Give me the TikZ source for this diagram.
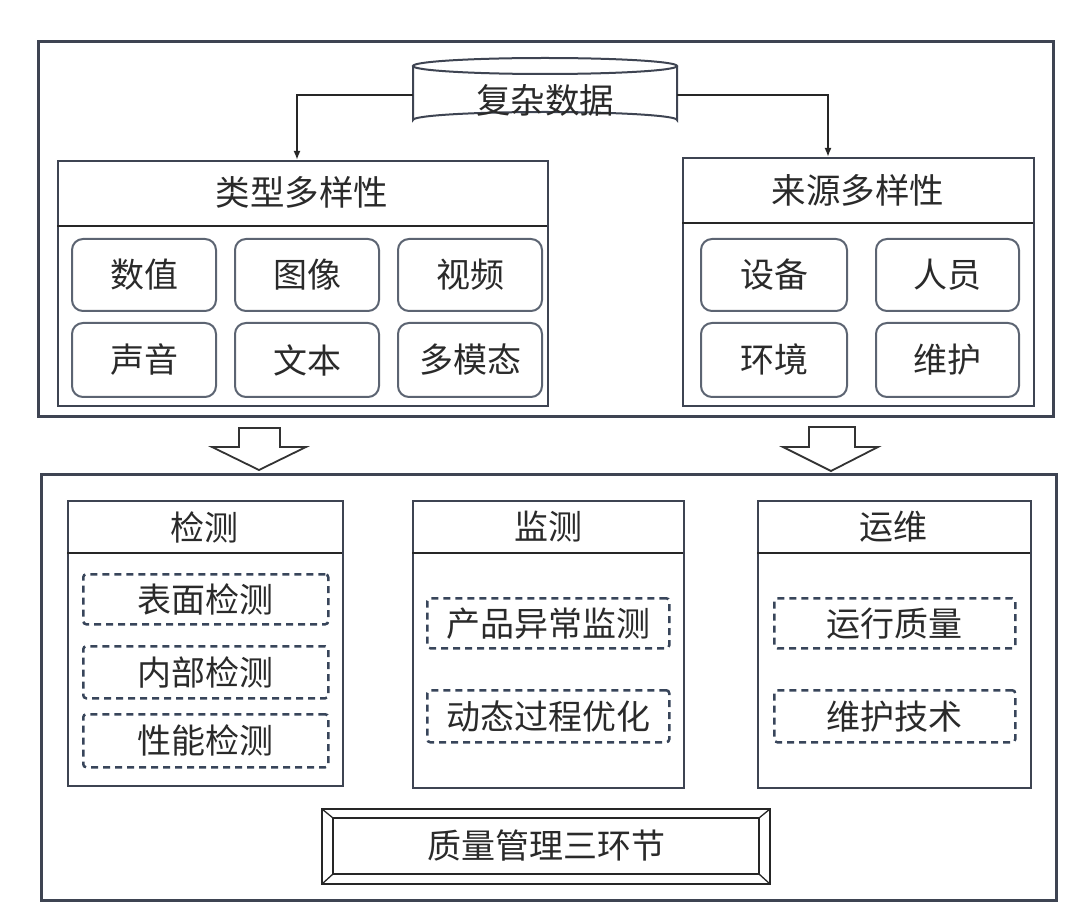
\documentclass[tikz,border=0pt]{standalone}
\usepackage{fontspec}
\newfontfamily\cjk{Noto Sans CJK SC}
\usetikzlibrary{arrows.meta,calc}
\definecolor{frame}{HTML}{3E4452}
\definecolor{rbox}{HTML}{5C6472}
\definecolor{dsh}{HTML}{38455A}
\definecolor{txt}{HTML}{2A2A2A}
\tikzset{
  x=1pt,y=-1pt,
  every node/.style={font=\cjk\fontsize{34}{36}\selectfont, text=txt, inner sep=0pt},
  outer/.style={draw=frame, line width=2.6pt, anchor=north west},
  panel/.style={draw=frame, line width=2.2pt, anchor=north west},
  hdr/.style={draw=black!85, line width=2.2pt},
  rbox/.style={draw=rbox, line width=2pt, rounded corners=11pt, anchor=north west},
  dbox/.style={draw=dsh, line width=2.5pt, dash pattern=on 7pt off 5pt, rounded corners=3pt, anchor=north west},
  conn/.style={draw=black!85, line width=2.2pt, -{Latex[length=9pt,width=7pt]}},
  hollow/.style={draw=black!80, line width=1.8pt, fill=white, line join=miter},
  htext/.style={font=\cjk\fontsize{34.5}{36}\selectfont},
}
\begin{document}
\begin{tikzpicture}
\useasboundingbox (0,0) rectangle (1080,909);
% outer frames
\node[outer, minimum width=1015pt, minimum height=375pt] (topframe) at (37,40) {};
\node[outer, minimum width=1015pt, minimum height=426pt] (botframe) at (40,473) {};

% cylinder
\draw[frame, line width=2pt, fill=white] (413,66) -- (413,120) arc[start angle=180, end angle=360, x radius=132, y radius=8] -- (677,66);
\draw[frame, line width=2pt] (545,66) ellipse [x radius=132, y radius=8];
\node[htext, minimum width=264pt, minimum height=50pt] (cyl) at (545,100) {复杂数据};

% type panel
\node[panel, minimum width=490pt, minimum height=245pt] (typ) at (57,160) {};
\draw[hdr] (57,226) -- (547,226);
\node[htext] (typh) at (302,192) {类型多样性};
\node[rbox, minimum width=144pt, minimum height=72pt] (b1) at (71,238) {};
\node at (b1.center) (t1) {数值};
\node[rbox, minimum width=144pt, minimum height=72pt] (b2) at (234,238) {};
\node at (b2.center) (t2) {图像};
\node[rbox, minimum width=144pt, minimum height=72pt] (b3) at (397,238) {};
\node at (b3.center) (t3) {视频};
\node[rbox, minimum width=144pt, minimum height=74pt] (b4) at (71,322) {};
\node at (b4.center) (t4) {声音};
\node[rbox, minimum width=144pt, minimum height=74pt] (b5) at (234,322) {};
\node at (b5.center) (t5) {文本};
\node[rbox, minimum width=144pt, minimum height=74pt] (b6) at (397,322) {};
\node at (b6.center) (t6) {多模态};

% source panel
\node[panel, minimum width=351pt, minimum height=248pt] (src) at (682,157) {};
\draw[hdr] (682,223) -- (1033,223);
\node[htext] (srch) at (858,190) {来源多样性};
\node[rbox, minimum width=146pt, minimum height=72pt] (s1) at (700,238) {};
\node at (s1.center) (u1) {设备};
\node[rbox, minimum width=143pt, minimum height=72pt] (s2) at (875,238) {};
\node at (s2.center) (u2) {人员};
\node[rbox, minimum width=146pt, minimum height=74pt] (s3) at (700,322) {};
\node at (s3.center) (u3) {环境};
\node[rbox, minimum width=143pt, minimum height=74pt] (s4) at (875,322) {};
\node at (s4.center) (u4) {维护};

% connectors
\coordinate (tl) at (297,160);
\coordinate (tr) at (828,157);
\draw[conn] (413,95) -| (tl);
\draw[conn] (677,95) -| (tr);

% hollow arrows
\draw[hollow] (239,428) -- (280,428) -- (280,447) -- (306,447) -- (259,470) -- (212,447) -- (239,447) -- cycle;
\draw[hollow] (809,427) -- (855,427) -- (855,447) -- (878,447) -- (831,471) -- (783,447) -- (809,447) -- cycle;

% detection
\node[panel, minimum width=275pt, minimum height=285pt] (det) at (67,500) {};
\draw[hdr] (67,553) -- (342,553);
\node (deth) at (204,527) {检测};
\node[dbox, minimum width=245pt, minimum height=50pt] (d1) at (82,573) {};
\node at (d1.center) (e1) {表面检测};
\node[dbox, minimum width=245pt, minimum height=52pt] (d2) at (82,645) {};
\node at (d2.center) (e2) {内部检测};
\node[dbox, minimum width=245pt, minimum height=53pt] (d3) at (82,713) {};
\node at (d3.center) (e3) {性能检测};

% monitoring
\node[panel, minimum width=271pt, minimum height=287pt] (mon) at (412,500) {};
\draw[hdr] (412,553) -- (683,553);
\node (monh) at (548,527) {监测};
\node[dbox, minimum width=242pt, minimum height=50pt] (m1) at (426,597) {};
\node at (m1.center) (n1) {产品异常监测};
\node[dbox, minimum width=242pt, minimum height=52pt] (m2) at (426,689) {};
\node at (m2.center) (n2) {动态过程优化};

% operation
\node[panel, minimum width=273pt, minimum height=287pt] (ops) at (757,500) {};
\draw[hdr] (757,553) -- (1030,553);
\node (opsh) at (893,527) {运维};
\node[dbox, minimum width=241pt, minimum height=50pt] (o1) at (773,597) {};
\node at (o1.center) (p1) {运行质量};
\node[dbox, minimum width=241pt, minimum height=52pt] (o2) at (773,689) {};
\node at (o2.center) (p2) {维护技术};

% bevel box
\draw[black!85, line width=2.2pt, fill=white] (322,809) rectangle (770,884);
\draw[black!85, line width=2pt] (333,818) rectangle (759,874);
\draw[black!85, line width=1.3pt] (322,809) -- (333,818) (770,809) -- (759,818) (322,884) -- (333,874) (770,884) -- (759,874);
\node (qm) at (546,846) {质量管理三环节};
\end{tikzpicture}
\end{document}
